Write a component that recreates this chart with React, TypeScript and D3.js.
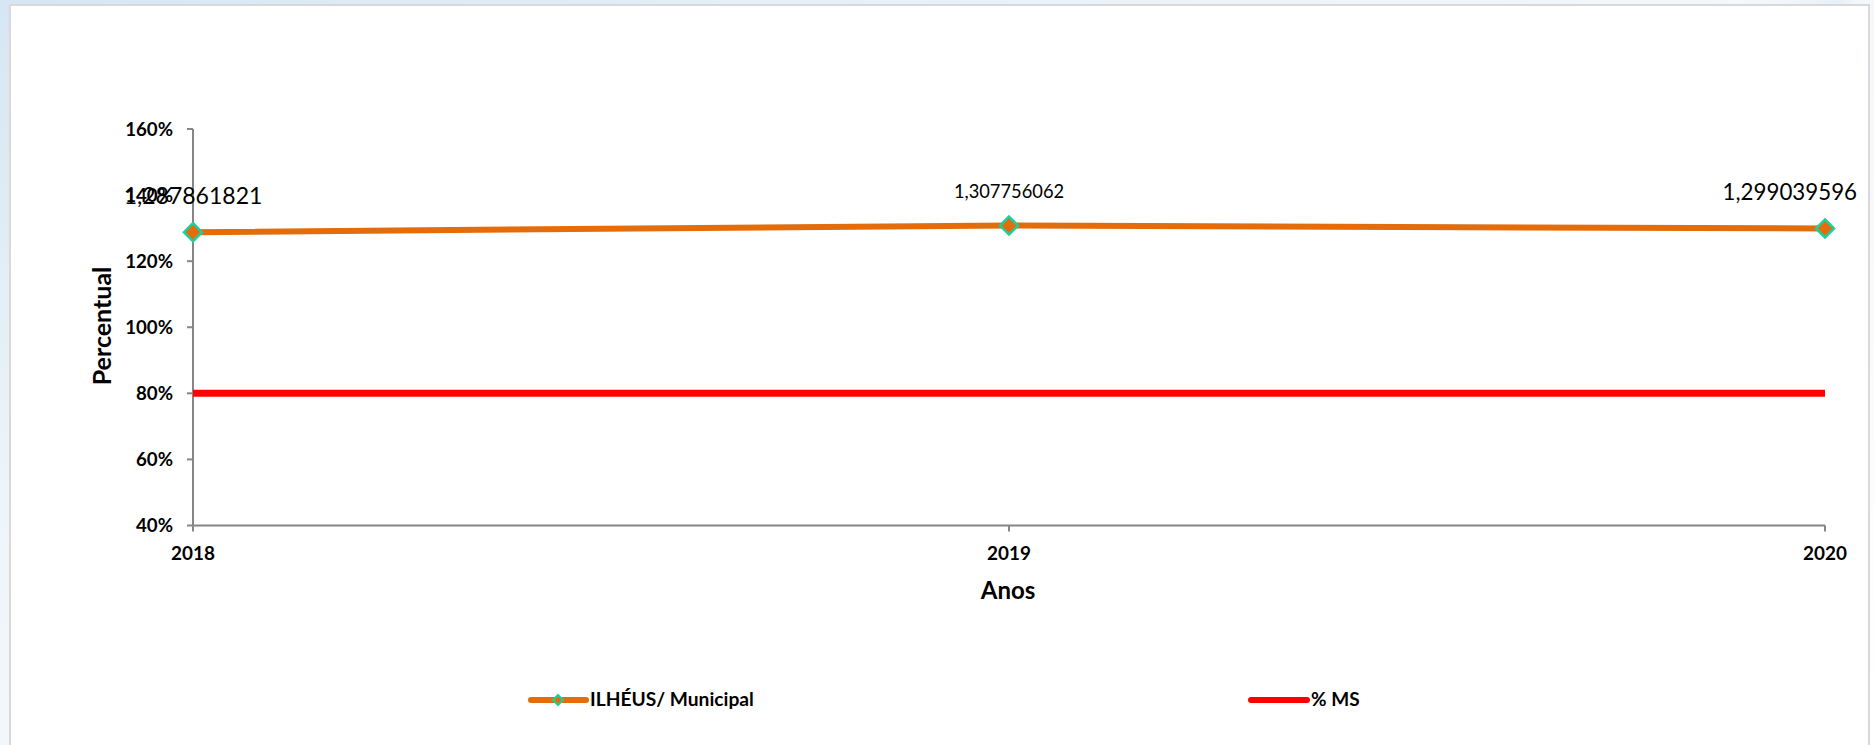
import React from "react";
import * as d3 from "d3";

const years = ["2018", "2019", "2020"];
const municipal = [1.287861821, 1.307756062, 1.299039596];
const municipalLabels = ["1,287861821", "1,307756062", "1,299039596"];
const msTarget = [0.8, 0.8, 0.8];
const yTicks = [0.4, 0.6, 0.8, 1.0, 1.2, 1.4, 1.6];
const seriesNames = ["ILHÉUS/ Municipal", "% MS"];

const W = 1874;
const H = 745;
const ORANGE = "#E46C0A";
const TEAL = "#1CCF9E";
const RED = "#FF0000";
const AXIS = "#868686";
const FONT = "Lato, 'Open Sans', sans-serif";

export default function App() {
  const x = d3.scalePoint<string>().domain(years).range([193, 1825]);
  const y = d3.scaleLinear().domain([0.4, 1.6]).range([525.5, 129]);

  const lineGen = d3
    .line<number>()
    .x((_, i) => x(years[i]) as number)
    .y((d) => y(d));

  const diamond = (cx: number, cy: number, r: number) =>
    `M${cx},${cy - r}L${cx + r},${cy}L${cx},${cy + r}L${cx - r},${cy}Z`;

  const labelSizes = [23, 18.3, 22.3];

  return (
    <svg
      width={W}
      height={H}
      style={{ position: "absolute", left: 0, top: 0, display: "block" }}
    >
      <defs>
        <linearGradient id="bg" x1="0" y1="0" x2="1" y2="1">
          <stop offset="0" stopColor="#d6e6f2" />
          <stop offset="0.35" stopColor="#eef5fa" />
          <stop offset="1" stopColor="#ffffff" />
        </linearGradient>
        <linearGradient id="bg2" x1="0" y1="0" x2="1" y2="0">
          <stop offset="0" stopColor="#ffffff" stopOpacity={0} />
          <stop offset="0.8" stopColor="#e4eef7" stopOpacity={0.8} />
          <stop offset="1" stopColor="#ffffff" stopOpacity={0} />
        </linearGradient>
      </defs>
      <rect x={0} y={0} width={W} height={H} fill="url(#bg)" />
      <rect x={1700} y={0} width={174} height={40} fill="url(#bg2)" />
      <rect
        x={10}
        y={5}
        width={1859}
        height={H}
        fill="#ffffff"
        stroke="#d9d9d9"
        strokeWidth={2}
      />

      {/* Y axis */}
      <line x1={193} x2={193} y1={y(1.6)} y2={y(0.4)} stroke={AXIS} strokeWidth={2} />
      {yTicks.map((t) => (
        <g key={t}>
          <line x1={187} x2={193} y1={y(t)} y2={y(t)} stroke={AXIS} strokeWidth={2} />
          <text
            x={173}
            y={y(t)}
            dy="0.35em"
            textAnchor="end"
            fontFamily={FONT}
            fontWeight={700}
            fontSize={18.7}
            fill="#000"
          >
            {Math.round(t * 100)}%
          </text>
        </g>
      ))}

      {/* X axis */}
      <line x1={193} x2={1825} y1={y(0.4)} y2={y(0.4)} stroke={AXIS} strokeWidth={2} />
      {years.map((yr) => (
        <g key={yr}>
          <line
            x1={x(yr)}
            x2={x(yr)}
            y1={y(0.4)}
            y2={y(0.4) + 6}
            stroke={AXIS}
            strokeWidth={2}
          />
          <text
            x={x(yr)}
            y={560}
            textAnchor="middle"
            fontFamily={FONT}
            fontWeight={700}
            fontSize={18.9}
            fill="#000"
          >
            {yr}
          </text>
        </g>
      ))}

      {/* Axis titles */}
      <text
        x={1008}
        y={599}
        textAnchor="middle"
        fontFamily={FONT}
        fontWeight={700}
        fontSize={24}
        fill="#000"
      >
        Anos
      </text>
      <text
        transform="translate(111,326) rotate(-90)"
        textAnchor="middle"
        fontFamily={FONT}
        fontWeight={700}
        fontSize={25}
        fill="#000"
      >
        Percentual
      </text>

      {/* % MS line */}
      <path d={lineGen(msTarget) || ""} fill="none" stroke={RED} strokeWidth={7} />

      {/* Municipal line */}
      <path d={lineGen(municipal) || ""} fill="none" stroke={ORANGE} strokeWidth={6} />
      {municipal.map((v, i) => (
        <path
          key={i}
          d={diamond(x(years[i]) as number, y(v), 9)}
          fill={ORANGE}
          stroke={TEAL}
          strokeWidth={2.5}
        />
      ))}

      {/* Data labels */}
      {municipal.map((v, i) => {
        const px = x(years[i]) as number;
        const last = i === years.length - 1;
        return (
          <text
            key={i}
            x={last ? px + 32 : px}
            y={y(v) - 28}
            textAnchor={last ? "end" : "middle"}
            fontFamily={FONT}
            fontSize={labelSizes[i]}
            fill="#000"
          >
            {municipalLabels[i]}
          </text>
        );
      })}

      {/* Legend */}
      <line x1={531} x2={586} y1={700} y2={700} stroke={ORANGE} strokeWidth={6} strokeLinecap="round" />
      <path d={diamond(558, 700, 5)} fill={ORANGE} stroke={TEAL} strokeWidth={2} />
      <text x={590} y={706} fontFamily={FONT} fontWeight={700} fontSize={19.2} fill="#000">
        {seriesNames[0]}
      </text>
      <line x1={1251} x2={1307} y1={700} y2={700} stroke={RED} strokeWidth={6} strokeLinecap="round" />
      <text x={1311} y={706} fontFamily={FONT} fontWeight={700} fontSize={19} fill="#000">
        {seriesNames[1]}
      </text>
    </svg>
  );
}
